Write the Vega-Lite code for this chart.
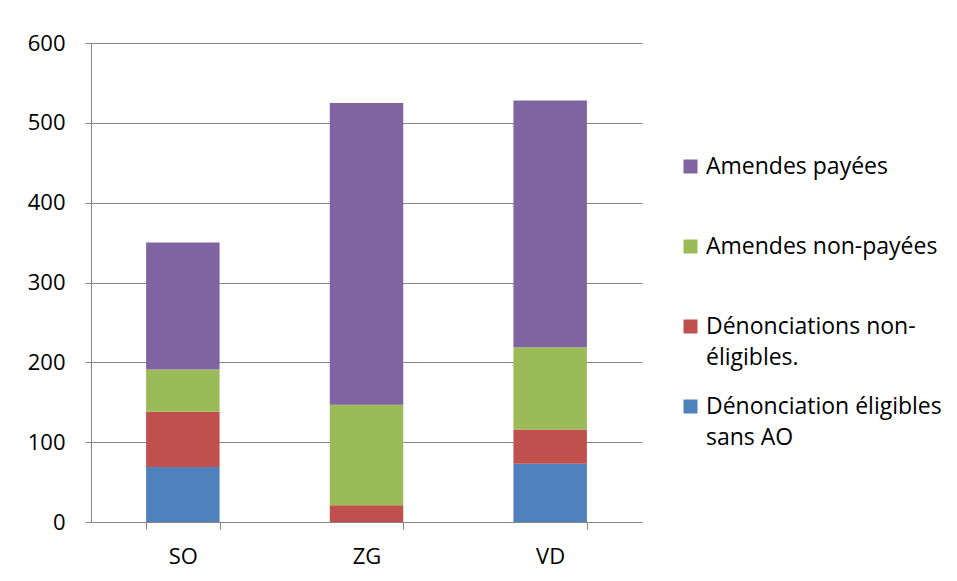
{
  "$schema": "https://vega.github.io/schema/vega-lite/v6.json",
  "autosize": "none",
  "width": 551,
  "height": 479,
  "padding": {"left": 91, "top": 43, "right": 315, "bottom": 59},
  "background": "white",
  "config": {
    "view": {"stroke": null},
    "font": "Open Sans",
    "style": {"guide-label": {"lineHeight": 31}},
    "axis": {"labelFont": "Open Sans", "labelColor": "#000000", "labelFontSize": 22, "domainColor": "#868686", "tickColor": "#868686", "gridColor": "#868686"},
    "legend": {"labelFont": "Open Sans", "labelColor": "#000000", "labelFontSize": 23}
  },
  "data": {
    "values": [
      {"region": "SO", "category": "Dénonciation éligibles sans AO", "value": 69, "ord": 1},
      {"region": "SO", "category": "Dénonciations non-éligibles.", "value": 69, "ord": 2},
      {"region": "SO", "category": "Amendes non-payées", "value": 53, "ord": 3},
      {"region": "SO", "category": "Amendes payées", "value": 159, "ord": 4},
      {"region": "ZG", "category": "Dénonciation éligibles sans AO", "value": 0, "ord": 1},
      {"region": "ZG", "category": "Dénonciations non-éligibles.", "value": 21, "ord": 2},
      {"region": "ZG", "category": "Amendes non-payées", "value": 126, "ord": 3},
      {"region": "ZG", "category": "Amendes payées", "value": 378, "ord": 4},
      {"region": "VD", "category": "Dénonciation éligibles sans AO", "value": 73, "ord": 1},
      {"region": "VD", "category": "Dénonciations non-éligibles.", "value": 43, "ord": 2},
      {"region": "VD", "category": "Amendes non-payées", "value": 103, "ord": 3},
      {"region": "VD", "category": "Amendes payées", "value": 309, "ord": 4}
    ]
  },
  "mark": {"type": "bar"},
  "encoding": {
    "x": {
      "field": "region", "type": "nominal", "sort": ["SO", "ZG", "VD"],
      "scale": {"paddingInner": 0.6, "paddingOuter": 0.3},
      "axis": {"title": null, "labelAngle": 0, "tickBand": "extent", "tickSize": 7, "labelPadding": 17, "domainWidth": 1}
    },
    "y": {
      "field": "value", "type": "quantitative", "stack": "zero",
      "scale": {"domain": [0, 600], "nice": false},
      "axis": {"title": null, "values": [0, 100, 200, 300, 400, 500, 600], "tickSize": 6, "labelPadding": 20, "grid": true}
    },
    "color": {
      "field": "category", "type": "nominal",
      "scale": {
        "domain": ["Amendes payées", "Amendes non-payées", "Dénonciations non-éligibles.", "Dénonciation éligibles sans AO"],
        "range": ["#8064A2", "#9BBB59", "#C0504D", "#4F81BD"]
      },
      "legend": {
        "title": null,
        "orient": "none",
        "legendX": 588,
        "legendY": 112,
        "symbolType": "square",
        "symbolSize": 196,
        "symbolStrokeWidth": 0,
        "labelOffset": 4,
        "labelLimit": 400,
        "rowPadding": 25,
        "labelExpr": "datum.label == 'Dénonciations non-éligibles.' ? ['Dénonciations non-', 'éligibles.'] : datum.label == 'Dénonciation éligibles sans AO' ? ['Dénonciation éligibles', 'sans AO'] : [datum.label, ' ']"
      }
    },
    "order": {"field": "ord", "type": "quantitative"}
  }
}
